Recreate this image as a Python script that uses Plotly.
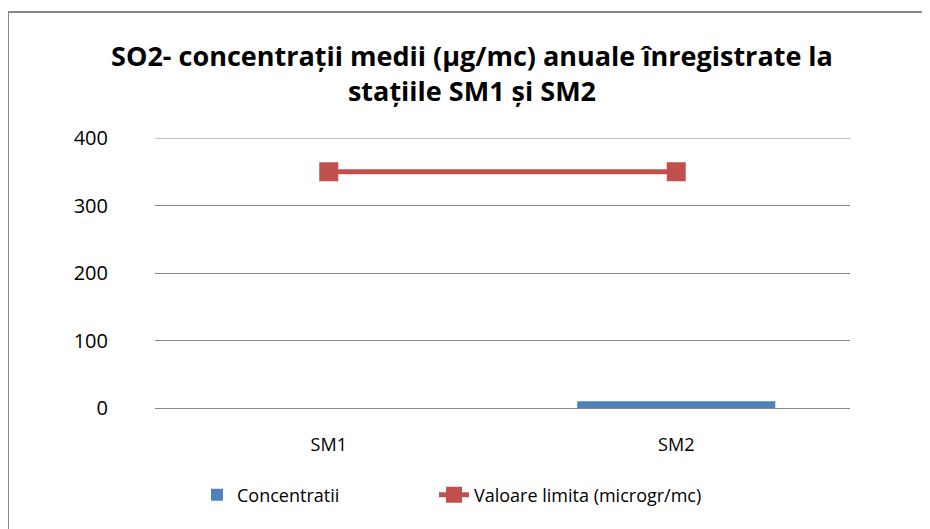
import plotly.graph_objects as go

categories = ["SM1", "SM2"]
concentratii = [0, 10]
valoare_limita = [350, 350]
y_ticks = [0, 100, 200, 300, 400]

fig = go.Figure()
fig.add_trace(go.Bar(
    x=categories, y=concentratii, name="Concentratii",
    marker=dict(color="#4F81BD", line=dict(width=0)), width=0.57,
    legend="legend",
))
fig.add_trace(go.Scatter(
    x=categories, y=valoare_limita, name="Valoare limita (microgr/mc)",
    mode="lines+markers",
    line=dict(color="#C0504D", width=5),
    marker=dict(symbol="square", size=19, color="#C0504D"),
    legend="legend2",
))

font_family = "Open Sans, Noto Sans, DejaVu Sans"
# page body has an 8px margin, so figure is offset by 8px
W, H = 922, 521
L, T = 147, 130
PW, PH = 695, 270
leg_y = (408 - 495) / PH
grid_color = "#868686"
fig.update_layout(
    width=W, height=H,
    margin=dict(l=L, r=W - L - PW, t=T, b=H - T - PH),
    paper_bgcolor="white", plot_bgcolor="white",
    font=dict(family=font_family, size=18, color="#000000"),
    title=dict(
        text="SO2- concentrații medii (µg/mc) anuale înregistrate la<br>stațiile SM1 și SM2",
        x=(472 - 8) / W, xanchor="center", y=1 - (38 - 8 + 28) / H, yanchor="top",
        font=dict(family=font_family, size=27, color="#000000", weight="bold"),
    ),
    showlegend=True,
    legend=dict(
        orientation="h", x=(197 - 8 - L) / PW, xanchor="left",
        y=leg_y, yanchor="middle", font=dict(size=18),
    ),
    legend2=dict(
        orientation="h", x=(434 - 8 - L) / PW, xanchor="left",
        y=leg_y, yanchor="middle", font=dict(size=18),
    ),
)
fig.update_yaxes(
    range=[0, y_ticks[-1]], tickvals=y_ticks, showgrid=True, gridcolor=grid_color,
    gridwidth=1, zeroline=False, showline=False, ticks="",
    ticklabelstandoff=46, tickfont=dict(size=20),
)
fig.update_xaxes(
    showgrid=False, showline=True, linecolor=grid_color, linewidth=1,
    ticks="", tickfont=dict(size=18), ticklabelstandoff=20,
)
# top gridline (plotly omits a gridline lying on the plot edge)
fig.add_shape(
    type="line", xref="paper", yref="y", x0=0, x1=1,
    y0=y_ticks[-1], y1=y_ticks[-1], line=dict(color=grid_color, width=1), layer="below",
)
fig.add_shape(
    type="rect", xref="paper", yref="paper",
    x0=(8 - 8 - L) / PW, x1=(960 - 8 - L) / PW,
    y0=(408 - 560) / PH, y1=(408 - 12) / PH,
    line=dict(color="#888888", width=2), fillcolor="rgba(0,0,0,0)", layer="below",
)
fig.write_html("out.html")
